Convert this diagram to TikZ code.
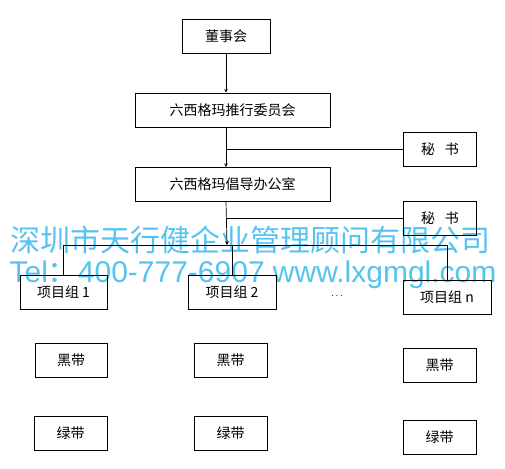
\documentclass[tikz,border=0pt]{standalone}
\usepackage{fontspec}
\newfontfamily\cjk{Noto Sans CJK SC}
\newfontfamily\latin{Liberation Sans}
\usetikzlibrary{arrows}
\definecolor{wmblue}{RGB}{85,195,240}

\begin{document}
\begin{tikzpicture}[x=1pt, y=-1pt, line width=0.7pt,
    box node/.style={draw, minimum height=34pt, inner sep=0pt, font=\cjk\fontsize{14}{16}\selectfont},
    mark node/.style={text=wmblue, inner sep=0pt, font=\cjk\fontsize{30}{32}\selectfont}]
\useasboundingbox (0,0) rectangle (505,468);
% watermark
\node[mark node] (wm1) at (250,240) {深圳市天行健企业管理顾问有限公司};
\node[mark node, font=\latin\fontsize{30}{32}\selectfont] (wm2) at (253,275) {Tel{\cjk ：}400-777-6907 www.lxgmgl.com};
% boxes
\node[box node, minimum width=88pt] (board) at (226,36) {董事会};
\node[box node, minimum width=195pt] (committee) at (232.5,110) {六西格玛推行委员会};
\node[box node, minimum width=73pt] (sec1) at (440,149) {秘\hspace{0.7em}书};
\node[box node, minimum width=195pt] (office) at (232.5,184.5) {六西格玛倡导办公室};
\node[box node, minimum width=73pt] (sec2) at (440,218) {秘\hspace{0.7em}书};
\node[box node, minimum width=87pt] (group1) at (63.5,292.5) {项目组 1};
\node[box node, minimum width=88pt] (group2) at (232,292.5) {项目组 2};
\node[box node, minimum width=88pt] (groupn) at (447,297.5) {项目组 n};
\node[font=\cjk, inner sep=0pt] (dots) at (337,296) {$\cdots$};
\node[box node, minimum width=72pt] (black1) at (71,360.5) {黑带};
\node[box node, minimum width=73pt] (black2) at (230.5,360.5) {黑带};
\node[box node, minimum width=73pt] (blackn) at (439.5,365) {黑带};
\node[box node, minimum width=73pt] (green1) at (70.5,433.5) {绿带};
\node[box node, minimum width=73pt] (green2) at (230.5,433.5) {绿带};
\node[box node, minimum width=73pt] (greenn) at (439.5,437.5) {绿带};
\coordinate (bus) at (227,245);
% lines
\draw[-stealth] (board) -- (board.south |- committee.north);
\draw[-stealth] (board.south |- committee.south) -- (board.south |- office.north);
\draw (board.south |- sec1.west) -- (sec1.west);
\draw[-stealth] (board.south |- office.south) -- (bus);
\draw (board.south |- sec2.west) -- (sec2.west);
\draw (group1.north |- bus) -- (groupn.north |- bus);
\foreach \g in {group1, group2, groupn}
    \draw (\g.north |- bus) -- (\g.north);
\end{tikzpicture}
\end{document}
